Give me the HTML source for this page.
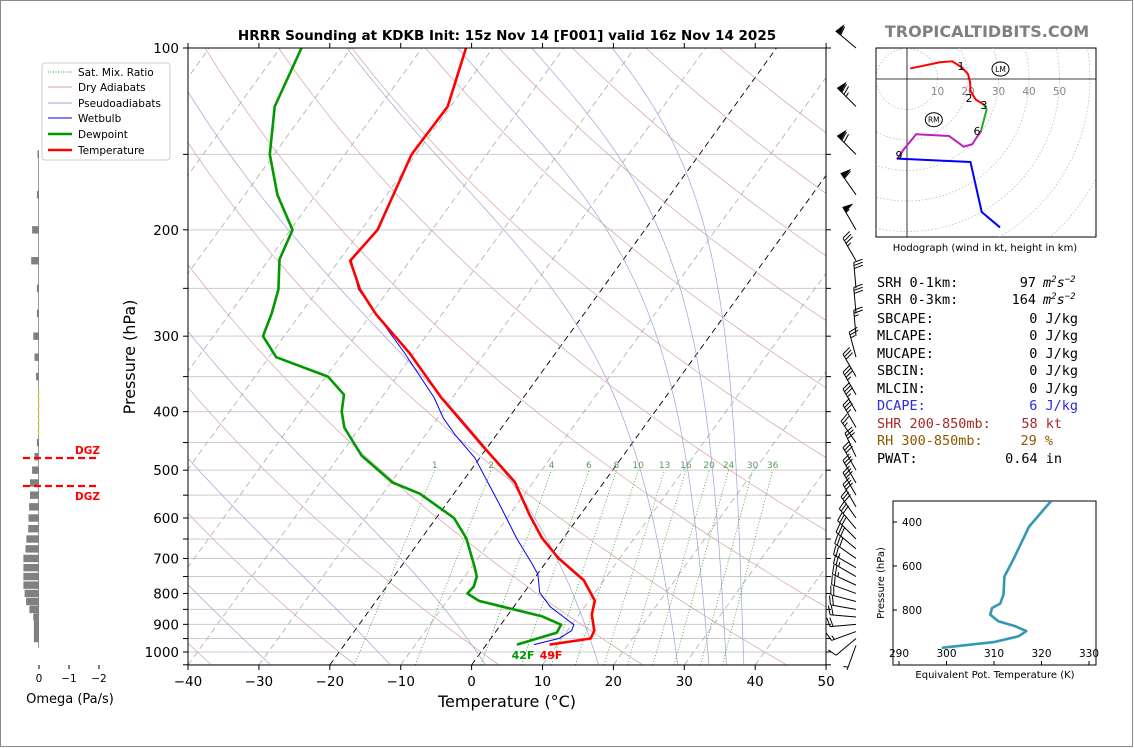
<!DOCTYPE html>
<html><head><meta charset="utf-8"><title>HRRR Sounding KDKB</title>
<style>
body{margin:0;background:#fff;}
svg{display:block;font-family:"DejaVu Sans","Liberation Sans",sans-serif;}
.mono{font-family:"DejaVu Sans Mono","Liberation Mono",monospace;font-size:13.5px;}
</style></head>
<body>
<svg id="fig" width="1134" height="748" viewBox="0 0 1134 748" xmlns="http://www.w3.org/2000/svg">
<defs>
<clipPath id="plotclip"><rect x="188" y="48" width="638" height="617"/></clipPath>
<clipPath id="hodoclip"><rect x="876" y="48" width="220" height="189"/></clipPath>
<clipPath id="thclip"><rect x="893" y="501" width="203" height="164"/></clipPath>
</defs>
<rect x="0.5" y="0.5" width="1132" height="746" fill="#fff" stroke="#8a8a8a"/>
<text x="507" y="40" text-anchor="middle" font-size="13.5" font-weight="bold">HRRR Sounding at KDKB Init: 15z Nov 14 [F001] valid 16z Nov 14 2025</text>
<text x="987" y="37" text-anchor="middle" font-size="16" font-weight="bold" fill="#808080">TROPICALTIDBITS.COM</text>
<g id="bg" clip-path="url(#plotclip)"></g>
<g id="prof" clip-path="url(#plotclip)"></g>
<rect x="188" y="48" width="638" height="617" fill="none" stroke="#000" stroke-width="1"/>
<g id="axes"></g>
<text x="507" y="707" text-anchor="middle" font-size="16">Temperature (°C)</text>
<text transform="translate(135,357) rotate(-90)" text-anchor="middle" font-size="16">Pressure (hPa)</text>
<text x="523" y="659" text-anchor="middle" font-size="11" font-weight="bold" fill="#009900">42F</text>
<text x="551" y="659" text-anchor="middle" font-size="11" font-weight="bold" fill="#ff0000">49F</text>
<g id="barbs"></g>
<g id="omega"></g>
<text x="70" y="703" text-anchor="middle" font-size="13">Omega (Pa/s)</text>
<g>
<rect x="42" y="63" width="128" height="97" rx="3" fill="#fff" fill-opacity="0.85" stroke="#ccc"/>
<line x1="48" y1="72" x2="72" y2="72" stroke="#3a9a3a" stroke-dasharray="1,1.5" stroke-width="1"/>
<text x="78" y="76" font-size="10.5">Sat. Mix. Ratio</text>
<line x1="48" y1="87" x2="72" y2="87" stroke="#d9a0a0" stroke-width="1"/>
<text x="78" y="91" font-size="10.5">Dry Adiabats</text>
<line x1="48" y1="103" x2="72" y2="103" stroke="#a0a0d9" stroke-width="1"/>
<text x="78" y="107" font-size="10.5">Pseudoadiabats</text>
<line x1="48" y1="118" x2="72" y2="118" stroke="#0000ff" stroke-width="1"/>
<text x="78" y="122" font-size="10.5">Wetbulb</text>
<line x1="48" y1="134" x2="72" y2="134" stroke="#009900" stroke-width="2.5"/>
<text x="78" y="138" font-size="10.5">Dewpoint</text>
<line x1="48" y1="150" x2="72" y2="150" stroke="#ff0000" stroke-width="2.5"/>
<text x="78" y="154" font-size="10.5">Temperature</text>
</g>
<g id="hodo">
<rect x="876" y="48" width="220" height="189" fill="#fff" stroke="#000"/>
</g>
<text x="985" y="251" text-anchor="middle" font-size="10">Hodograph (wind in kt, height in km)</text>
<g class="mono">
<text x="877" y="287">SRH 0-1km:</text>
<text x="1036" y="287" text-anchor="end">97</text>
<text x="1043" y="287" font-style="italic">m<tspan dy="-5" font-size="9">2</tspan><tspan dy="5">s</tspan><tspan dy="-5" font-size="9">−2</tspan></text>
<text x="877" y="304">SRH 0-3km:</text>
<text x="1036" y="304" text-anchor="end">164</text>
<text x="1043" y="304" font-style="italic">m<tspan dy="-5" font-size="9">2</tspan><tspan dy="5">s</tspan><tspan dy="-5" font-size="9">−2</tspan></text>
<text x="877" y="323">SBCAPE:</text><text x="1078" y="323" text-anchor="end">0 J/kg</text>
<text x="877" y="340">MLCAPE:</text><text x="1078" y="340" text-anchor="end">0 J/kg</text>
<text x="877" y="358">MUCAPE:</text><text x="1078" y="358" text-anchor="end">0 J/kg</text>
<text x="877" y="375">SBCIN:</text><text x="1078" y="375" text-anchor="end">0 J/kg</text>
<text x="877" y="393">MLCIN:</text><text x="1078" y="393" text-anchor="end">0 J/kg</text>
<text x="877" y="410" fill="#2a2ae0">DCAPE:</text><text x="1078" y="410" text-anchor="end" fill="#2a2ae0">6 J/kg</text>
<text x="877" y="428" fill="#a52a2a">SHR 200-850mb:</text><text x="1062" y="428" text-anchor="end" fill="#a52a2a">58 kt</text>
<text x="877" y="445" fill="#8b5a00">RH 300-850mb:</text><text x="1053" y="445" text-anchor="end" fill="#8b5a00">29 %</text>
<text x="877" y="463">PWAT:</text><text x="1062" y="463" text-anchor="end">0.64 in</text>
</g>
<g id="theta">
<rect x="893" y="501" width="203" height="164" fill="#fff" stroke="#000"/>
</g>
<text transform="translate(884,583) rotate(-90)" text-anchor="middle" font-size="10">Pressure (hPa)</text>
<text x="995" y="678" text-anchor="middle" font-size="10">Equivalent Pot. Temperature (K)</text>
</svg>
<script>
// ---------------- data ----------------
const tempP=[100,125,150,200,225,251,276,320,379,456,523,591,648,700,761,822,867,922,950,972];
const tempT=[-63.8,-60.4,-60.6,-57.7,-58.4,-54.1,-49.3,-40.6,-31.6,-20.8,-12.6,-7.3,-3.0,1.4,7.2,10.8,11.8,13.8,14.1,8.9];
const dewP=[100,125,150,175,200,224,251,275,300,325,350,375,400,425,473,524,547,600,648,721,750,779,800,823,873,901,929,972];
const dewT=[-87,-84.8,-80.6,-75.4,-69.7,-68.5,-65.6,-64.1,-63,-59,-49.7,-45.6,-44.2,-42.2,-36.9,-29.8,-24.8,-17.5,-13.7,-9.7,-8.3,-7.7,-7.9,-5.5,5.0,8.5,8.7,4.3];
const wbP=[100,125,150,200,224,251,271,320,379,410,438,477,573,648,716,744,797,841,901,922,950,972];
const wbT=[-63.8,-60.4,-60.6,-57.7,-58.4,-54.3,-50.2,-41.3,-32.6,-29.2,-25.7,-20.7,-12.2,-6.6,-1.7,0.1,2.2,5.1,10.3,10.6,9.6,6.7];
const xTicks=[-40,-30,-20,-10,0,10,20,30,40,50];
const pTicks=[100,200,300,400,500,600,700,800,900,1000];
const mixRatios=[1,2,4,6,8,10,13,16,20,24,30,36];
const dryT0=[-180,-160,-140,-120,-100,-80,-60,-40,-20,0,20,40,60,80,100,120,140,160,180,200];
const moistT0=[-96,-80,-64,-48,-31.6,-14.5,-0.6,16,27.5,32,34.5,37];
const omegaP=[150,175,200,225,250,275,300,325,350,450,475,500,525,550,575,600,625,650,675,700,725,750,775,800,825,850,875,900,925,950];
const omegaV=[0.05,0.07,0.23,0.26,0.07,0.07,0.19,0.15,0.10,0.07,0.15,0.23,0.30,0.30,0.33,0.35,0.36,0.42,0.45,0.52,0.52,0.52,0.52,0.48,0.43,0.32,0.19,0.17,0.17,0.17];
const omegaTicks=[0,-1,-2];
const barbP=[100,125,150,175,200,225,250,275,300,325,350,375,400,425,450,475,500,525,550,575,600,625,650,675,700,725,750,775,800,825,850,875,900,925,950,975];
const barbSpd=[60,75,70,60,55,35,30,30,25,25,30,35,35,35,27,28,30,30,30,30,30,30,30,29,28,27,26,24,22,21,22,22,20,15,10,5];
const barbDir=[310,315,315,325,330,330,355,355,355,345,330,330,330,330,325,335,330,330,330,330,325,320,315,310,305,300,300,295,290,285,280,275,265,250,230,200];
const hodoU=[1.3,10.8,14.8,18,20,20.7,20.8,22.5,25.2,26.1,24.2,23,21.4,18.6,13.8,3,-1.1,-3.1,20.8,24.5,30.3];
const hodoV=[3.5,5.5,5.8,3.8,1.6,-1.1,-3.9,-6.7,-8.4,-10,-17.2,-18.9,-21.4,-22.2,-18.7,-18.1,-23.1,-26.1,-27.2,-43.6,-48.5];
const hodoLayer=[0,0,0,0,0,0,0,0,0,1,1,2,2,2,2,2,2,2,3,3,3];
const hodoRings=[10,20,30,40,50,60,70,80];
const hodoLabels=[10,20,30,40,50];
const hodoKm=[["1",961,66],["2",969,98],["3",984,105],["6",977,131],["9",899,155]];
const thP=[305,421,565,648,730,771,791,821,851,874,896,919,945,972];
const thE=[322,317.4,314.2,312.2,312,311.3,309.6,309.2,310.9,314.5,316.8,315.2,310.2,299];
const thPTicks=[400,600,800];
const thETicks=[290,300,310,320,330];

// ---------------- helpers ----------------
const NS="http://www.w3.org/2000/svg";
function el(tag,parent,attrs){const e=document.createElementNS(NS,tag);for(const k in attrs)e.setAttribute(k,attrs[k]);parent.appendChild(e);return e;}
const X0=188,PXC=7.09,YB=665,SK=0.724;
function Y(p){return 48+604*Math.log10(p/100);}
function X(T,p){return X0+(T+40)*PXC+SK*(YB-Y(p));}
function pathFrom(P,T){return P.map((p,i)=>(i?"L":"M")+X(T[i],p).toFixed(1)+","+Y(p).toFixed(1)).join("");}
function es(T){return 6.112*Math.exp(17.67*T/(T+243.5));}
const bg=document.getElementById("bg"),prof=document.getElementById("prof"),axes=document.getElementById("axes");

// isobars
for(let p=100;p<=1050;p+=50){
  const l=el("line",bg,{x1:188,x2:826,y1:Y(p),y2:Y(p),stroke:"#cccccc","stroke-width":1});
  
  
}
// isotherms
for(let T=-130;T<=50;T+=10){
  const xb=X0+(T+40)*PXC;
  const blk=(T===0||T===-20);
  const l=el("line",bg,{x1:xb,y1:YB,x2:xb+SK*617,y2:48,stroke:blk?"#000":"#aaaaaa","stroke-width":blk?0.9:0.8,"stroke-dasharray":"6,4"});
  
  
}
// dry adiabats
dryT0.forEach(t0=>{
  const th=t0+273.15;
  let d="";for(let p=1050;p>=100;p-=10){const T=th*Math.pow(p/1000,0.2857)-273.15;d+=(d?"L":"M")+X(T,p).toFixed(1)+","+Y(p).toFixed(1);}
  const l=el("path",bg,{d:d,fill:"none",stroke:"#d9a0a0","stroke-width":0.7});
  
  
});
// moist adiabats
function lapse(T,p){const Tk=T+273.15,e=es(T),rs=0.622*e/(p-e),Rd=287.04,Lv=2.501e6,Cp=1005.7;
  return (1/p)*(Rd*Tk+Lv*rs)/(Cp+Lv*Lv*rs*0.622/(Rd*Tk*Tk));}
moistT0.forEach(t0=>{
  const pts=[];let T=t0;
  for(let p=1000;p>=100;p-=5){pts.push([p,T]);const k1=lapse(T,p),k2=lapse(T-5*k1,p-5);T-=5*(k1+k2)/2;}
  T=t0;const low=[];for(let p=1000;p<1050;p+=5){const k=lapse(T,p);T+=5*k;low.push([p+5,T]);}
  const all=low.reverse().concat(pts);
  const d=all.map((q,i)=>(i?"L":"M")+X(q[1],q[0]).toFixed(1)+","+Y(q[0]).toFixed(1)).join("");
  const l=el("path",bg,{d:d,fill:"none",stroke:"#a0a0d9","stroke-width":0.7});
  
  
});
// mixing ratio lines
function tdFromW(w,p){const e=w*p/(622+w);const L=Math.log(e/6.112);return 243.5*L/(17.67-L);}
mixRatios.forEach(w=>{
  const l=el("line",bg,{x1:X(tdFromW(w,1050),1050),y1:Y(1050),x2:X(tdFromW(w,500),500),y2:Y(500),stroke:"#3a9a3a","stroke-width":0.8,"stroke-dasharray":"1,2"});
  
  
  const t=el("text",bg,{x:X(tdFromW(w,500),500),y:468,"text-anchor":"middle","font-size":9,fill:"#5a9a5a"});
  t.textContent=w;
  
  
});
// profiles
let pl=el("path",prof,{d:pathFrom(wbP,wbT),fill:"none",stroke:"#0000ff","stroke-width":1});


pl=el("path",prof,{d:pathFrom(dewP,dewT),fill:"none",stroke:"#009900","stroke-width":2.6,"stroke-linejoin":"round"});


pl=el("path",prof,{d:pathFrom(tempP,tempT),fill:"none",stroke:"#ff0000","stroke-width":2.6,"stroke-linejoin":"round"});



// axes ticks
xTicks.forEach(t=>{
  const x=X0+(t+40)*PXC;
  let k=el("line",axes,{x1:x,x2:x,y1:665,y2:670,stroke:"#000"});
  
  
  k=el("line",axes,{x1:x,x2:x,y1:48,y2:43,stroke:"#000"});
  
  
  const tx=el("text",axes,{x:x,y:686,"text-anchor":"middle","font-size":13.5});
  tx.textContent=(t<0?"\u2212"+(-t):t);
  
  
});
for(let p=100;p<=1050;p+=50){
  let k=el("line",axes,{x1:183,x2:188,y1:Y(p),y2:Y(p),stroke:"#000"});
  
  
  k=el("line",axes,{x1:826,x2:831,y1:Y(p),y2:Y(p),stroke:"#000"});
  
  
}
pTicks.forEach(p=>{
  const tx=el("text",axes,{x:179,y:Y(p)+5,"text-anchor":"end","font-size":13.5});
  tx.textContent=p;
  
  
});

// wind barbs
const barbs=document.getElementById("barbs");
barbP.forEach((p,i)=>{
  const tipx=856,tipy=Y(p),L=26,d=barbDir[i]*Math.PI/180;
  const ux=Math.sin(d),uy=-Math.cos(d);const px=-uy,py=ux;
  const ex=tipx+ux*L,ey=tipy+uy*L;
  const g=el("g",barbs,{stroke:"#000","stroke-width":1,fill:"#000"});
  
  
  el("line",g,{x1:tipx,y1:tipy,x2:ex,y2:ey});
  let s=Math.round(barbSpd[i]/5)*5,pos=0;
  while(s>=50){const ax=ex-ux*pos,ay=ey-uy*pos,bx=ex-ux*(pos+5),by=ey-uy*(pos+5);
    el("polygon",g,{points:`${ax},${ay} ${bx},${by} ${ax+px*9-ux*2},${ay+py*9-uy*2}`});pos+=6;s-=50;}
  while(s>=10){const ax=ex-ux*pos,ay=ey-uy*pos;el("line",g,{x1:ax,y1:ay,x2:ax+px*9+ux*2.5,y2:ay+py*9+uy*2.5});pos+=3;s-=10;}
  if(s>=5){if(pos===0)pos=3;const ax=ex-ux*pos,ay=ey-uy*pos;el("line",g,{x1:ax,y1:ay,x2:ax+px*4.5+ux*1.2,y2:ay+py*4.5+uy*1.2});}
});

// omega panel
const om=document.getElementById("omega");
const OX=39,OS=30;
let ol=el("line",om,{x1:38.5,x2:38.5,y1:150,y2:648,stroke:"#999","stroke-width":1});


omegaP.forEach((p,i)=>{
  const v=omegaV[i],w=Math.abs(v)*OS;const x=v>0?OX-w:OX;
  const r=el("rect",om,{x:x,y:Y(p)-3.7,width:w,height:7.4,fill:"#808080"});
  
  
});
ol=el("line",om,{x1:39,x2:39,y1:390,y2:435,stroke:"#ffee00","stroke-width":1,"stroke-dasharray":"4,3"});


[458,486].forEach((yy,j)=>{
  const l=el("line",om,{x1:23,x2:98,y1:yy,y2:yy,stroke:"#ff0000","stroke-width":2.2,"stroke-dasharray":"7,4"});
  
  
  const t=el("text",om,{x:100,y:j?500:454,"text-anchor":"end","font-size":10.5,"font-weight":"bold",fill:"#ff0000"});
  t.textContent="DGZ";
  
  
});
omegaTicks.forEach(t=>{
  const x=OX-t*OS;
  const k=el("line",om,{x1:x,x2:x,y1:665,y2:669,stroke:"#000"});
  
  
  const tx=el("text",om,{x:x,y:682,"text-anchor":"middle","font-size":10.5});
  tx.textContent=t<0?"\u2212"+(-t):t;
  
  
});

// hodograph
const ho=document.getElementById("hodo");
const HX=907,HY=79,HS=3.05;
const hc=el("g",ho,{"clip-path":"url(#hodoclip)"});


hodoRings.forEach(r=>{
  const c=el("circle",hc,{cx:HX,cy:HY,r:r*HS,fill:"none",stroke:"#bbb","stroke-width":0.8,"stroke-dasharray":"1.5,2"});
  
  
});
let ax1=el("line",hc,{x1:876,x2:1096,y1:HY,y2:HY,stroke:"#000","stroke-width":0.8});


ax1=el("line",hc,{x1:HX,x2:HX,y1:48,y2:237,stroke:"#000","stroke-width":0.8});


hodoLabels.forEach(k=>{
  const t=el("text",hc,{x:HX+k*HS,y:95,"text-anchor":"middle","font-size":10.5,fill:"#888"});
  t.textContent=k;
  
  
});
const hcol=["#ff0000","#22aa22","#bb22bb","#0000ff"];
for(let i=1;i<hodoU.length;i++){
  const s=el("line",hc,{x1:HX+hodoU[i-1]*HS,y1:HY-hodoV[i-1]*HS,x2:HX+hodoU[i]*HS,y2:HY-hodoV[i]*HS,stroke:hcol[hodoLayer[i]],"stroke-width":2,"stroke-linecap":"round"});
  
  
}
hodoKm.forEach(k=>{
  const t=el("text",hc,{x:k[1],y:k[2]+4,"text-anchor":"middle","font-size":11});
  t.textContent=k[0];
  
  
});
[["LM",1000.5,69],["RM",933.8,119.7]].forEach(m=>{
  const e=el("ellipse",hc,{cx:m[1],cy:m[2],rx:8.5,ry:7,fill:"#fff",stroke:"#000","stroke-width":1});
  
  
  const t=el("text",hc,{x:m[1],y:m[2]+3,"text-anchor":"middle","font-size":7.5});
  t.textContent=m[0];
  
  
});

// theta-e panel
const th=document.getElementById("theta");
function TX(v){return 899+(v-290)*4.75;}
function TY(p){return 522+(p-400)*0.22;}
const tg=el("g",th,{"clip-path":"url(#thclip)"});


const tpath=el("path",tg,{d:thP.map((p,i)=>(i?"L":"M")+TX(thE[i]).toFixed(1)+","+TY(p).toFixed(1)).join(""),fill:"none",stroke:"#3399b3","stroke-width":2.6,"stroke-linejoin":"round"});


thPTicks.forEach(p=>{
  const k=el("line",th,{x1:893,x2:897,y1:TY(p),y2:TY(p),stroke:"#000"});
  
  
  const t=el("text",th,{x:902,y:TY(p)+4,"font-size":10.5});
  t.textContent=p;
  
  
});
thETicks.forEach(v=>{
  const k=el("line",th,{x1:TX(v),x2:TX(v),y1:665,y2:661,stroke:"#000"});
  
  
  const t=el("text",th,{x:TX(v),y:657,"text-anchor":"middle","font-size":10.5});
  t.textContent=v;
  
  
});
</script>
</body></html>
